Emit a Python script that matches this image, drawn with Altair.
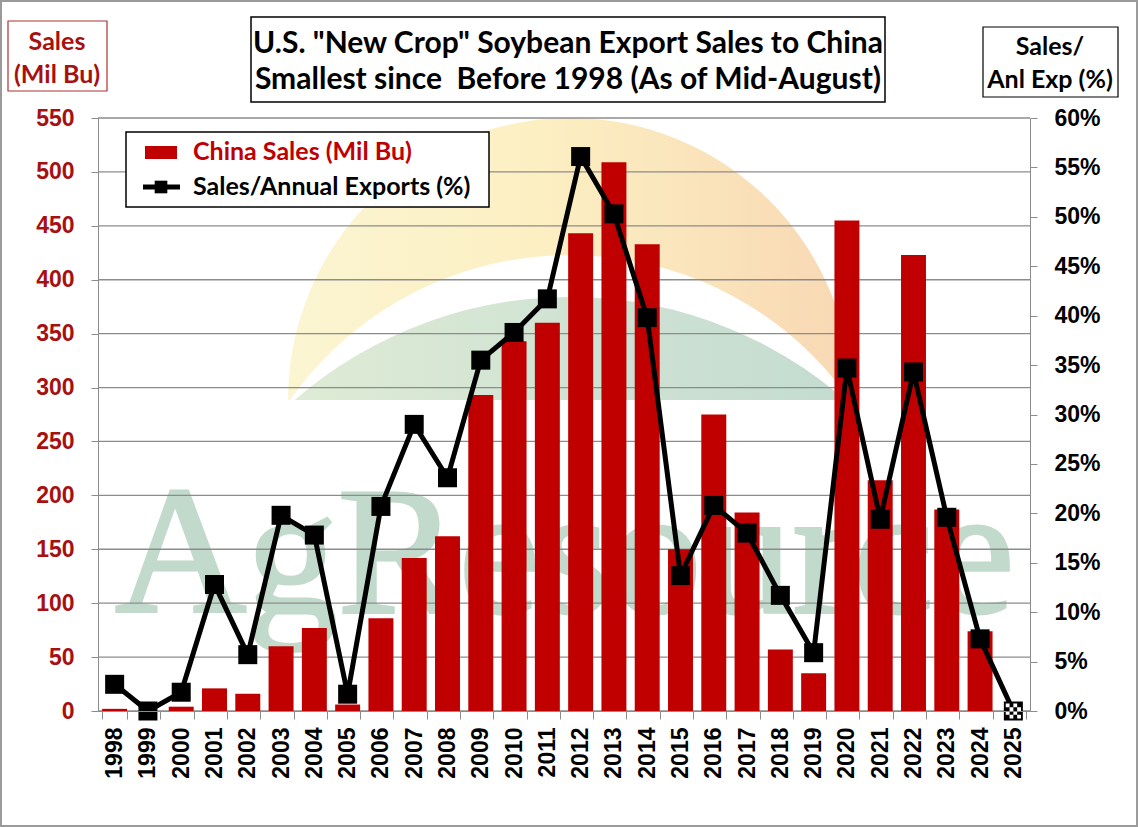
import altair as alt
import pandas as pd

# ---- data -------------------------------------------------------------
years = ["1998", "1999", "2000", "2001", "2002", "2003", "2004", "2005",
         "2006", "2007", "2008", "2009", "2010", "2011", "2012", "2013",
         "2014", "2015", "2016", "2017", "2018", "2019", "2020", "2021",
         "2022", "2023", "2024", "2025"]

# New-crop sales to China as of mid-August (million bushels)
china_sales = [2, 0, 4, 21, 16, 60, 77, 6, 86, 142, 162, 293, 343, 360,
               443, 509, 433, 150, 275, 184, 57, 35, 455, 214, 423, 187,
               74, 0]

# Those sales as a share of the year's total exports (percent)
sales_share_pct = [2.7, 0.0, 1.9, 12.8, 5.7, 19.8, 17.8, 1.7, 20.7, 29.0,
                   23.6, 35.5, 38.3, 41.7, 56.1, 50.3, 39.8, 13.7, 20.8,
                   18.0, 11.7, 5.9, 34.7, 19.4, 34.3, 19.6, 7.3, 0.0]

left_ticks = [0, 50, 100, 150, 200, 250, 300, 350, 400, 450, 500, 550]
right_ticks = [0.0, 0.05, 0.10, 0.15, 0.20, 0.25, 0.30, 0.35, 0.40, 0.45,
               0.50, 0.55, 0.60]

df = pd.DataFrame({
    "year": years,
    "sales": china_sales,
    "share": [v / 100 for v in sales_share_pct],
})

# ---- layout / style ---------------------------------------------------
W, H = 932, 593
PAD = {"left": 98, "top": 118, "right": 109, "bottom": 116}
BAR_RED = "#c00000"
AXIS_RED = "#a81010"
GRAY = "#8c8c8c"
CAL = "Lato"
NUM = "Liberation Sans"

one = alt.Data(values=[{"k": 0}])


def box(x, x2, y, y2, stroke, sw=1.5, fill="white"):
    return alt.Chart(one).mark_rect(fill=fill, stroke=stroke, strokeWidth=sw).encode(
        x=alt.value(x), x2=alt.value(x2), y=alt.value(y), y2=alt.value(y2))


def label(txt, x, y, size, color="black", align="center", font=CAL):
    return alt.Chart(one).mark_text(
        text=txt, font=font, fontSize=size, fontWeight="bold", color=color,
        align=align, baseline="middle").encode(x=alt.value(x), y=alt.value(y))


# outer frame of the figure
frame = alt.Chart(one).mark_rect(fill=None, stroke="#9a9a9a", strokeWidth=2).encode(
    x=alt.value(-97), x2=alt.value(1039), y=alt.value(-117), y2=alt.value(708))

# ---- faint company logo behind the plot ---------------------------------
cx, cy = 472, 282
sun = alt.Chart(one).mark_arc(
    radius=282, theta=4.712, theta2=7.854, clip=True,
    fill=alt.LinearGradient(
        gradient="linear", x1=0, x2=1, y1=0, y2=0,
        stops=[alt.GradientStop(color="#fbf5d2", offset=0),
               alt.GradientStop(color="#fcefc2", offset=0.45),
               alt.GradientStop(color="#f8d8b4", offset=1)]),
).encode(x=alt.value(cx), y=alt.value(cy))

gap = alt.Chart(one).mark_arc(radius=343, theta=0, theta2=6.2832, fill="white",
                              clip=True).encode(x=alt.value(cx), y=alt.value(cy + 198))

field = alt.Chart(one).mark_arc(
    radius=419, theta=0, theta2=6.2832, clip=True,
    fill=alt.LinearGradient(
        gradient="linear", x1=0, x2=1, y1=0, y2=0,
        stops=[alt.GradientStop(color="#e6efd6", offset=0),
               alt.GradientStop(color="#d0e3d3", offset=0.5),
               alt.GradientStop(color="#bdd8cf", offset=1)]),
).encode(x=alt.value(cx), y=alt.value(cy + 316))

horizon = alt.Chart(one).mark_rect(fill="white", clip=True).encode(
    x=alt.value(20), x2=alt.value(920), y=alt.value(cy), y2=alt.value(H))

wordmark = alt.Chart(one).mark_text(
    text="AgResource", font="Liberation Serif", fontSize=182, color="#c2dacc",
    stroke="#c2dacc", strokeWidth=3,
    align="left", baseline="alphabetic").encode(x=alt.value(17), y=alt.value(494))

# ---- axes -------------------------------------------------------------
x_enc = alt.X(
    "year:N", sort=years,
    scale=alt.Scale(paddingInner=0.25, paddingOuter=0.125),
    axis=alt.Axis(title=None, labelAngle=270, labelFont=NUM, labelFontWeight="bold",
                  labelFontSize=23, labelColor="black", tickBand="extent",
                  tickSize=8, tickColor=GRAY, domainColor=GRAY, labelPadding=8,
                  zindex=1),
)

left_axis = alt.Axis(orient="left", values=left_ticks, title=None, grid=False,
                     labelFont=NUM, labelFontWeight="bold", labelFontSize=23,
                     labelColor=AXIS_RED, tickSize=7, tickColor=GRAY,
                     domainColor=GRAY, labelPadding=17, zindex=1)
left_scale = alt.Scale(domain=[0, 550], nice=False)

right_axis = alt.Axis(orient="right", values=right_ticks, format=".0%", title=None,
                      grid=False, labelFont=NUM, labelFontWeight="bold",
                      labelFontSize=23, labelColor="black", tickSize=7,
                      tickColor=GRAY, domainColor=GRAY, labelPadding=17, zindex=1)
right_scale = alt.Scale(domain=[0, 0.6], nice=False)

# horizontal grid at the left-axis ticks, drawn over the logo, under the bars
grid = alt.Chart(pd.DataFrame({"sales": left_ticks})).mark_rule(
    color=GRAY, strokeWidth=1.3).encode(
    y=alt.Y("sales:Q", scale=left_scale, axis=left_axis))

bars = alt.Chart(df).mark_bar(color=BAR_RED).encode(
    x=x_enc, y=alt.Y("sales:Q", scale=left_scale, axis=left_axis))

left_group = alt.layer(grid, bars)

y_right = alt.Y("share:Q", scale=right_scale, axis=right_axis)
line = alt.Chart(df).mark_line(color="black", strokeWidth=5).encode(
    x=alt.X("year:N", sort=years), y=y_right)
squares = alt.Chart(df).mark_point(shape="square", filled=True, size=361,
                                   color="black", opacity=1).encode(
    x=alt.X("year:N", sort=years), y=y_right)

# checkerboard marker for the latest (incomplete) year
cells = []
step = 0.4
for i in range(4):
    for j in range(4):
        if (i + j) % 2 == 0:
            x0 = -0.8 + i * step
            y0 = -0.8 + j * step
            cells.append(f"M{x0:.2f},{y0:.2f}h{step}v{step}h-{step}Z")
checker_path = "".join(cells)
checker = alt.Chart(df).transform_filter(alt.datum.year == "2025").mark_point(
    shape=checker_path, filled=True, size=361, color="white", opacity=1).encode(
    x=alt.X("year:N", sort=years), y=y_right)

right_group = alt.layer(line, squares, checker)

# ---- legend -----------------------------------------------------------
legend_box = box(28, 391, 14, 89, "black", 1.5)
legend_swatch = alt.Chart(one).mark_rect(fill=BAR_RED).encode(
    x=alt.value(47), x2=alt.value(79), y=alt.value(28), y2=alt.value(41))
legend_line = alt.Chart(one).mark_rule(color="black", strokeWidth=5).encode(
    x=alt.value(45), x2=alt.value(82), y=alt.value(69))
legend_sq = alt.Chart(one).mark_point(shape="square", filled=True, size=160,
                                      color="black", opacity=1).encode(
    x=alt.value(63), y=alt.value(69))
legend_t1 = label("China Sales (Mil Bu)", 95, 34, 25, BAR_RED, "left")
legend_t2 = label("Sales/Annual Exports (%)", 95, 69, 25, "black", "left")

# ---- title and axis captions -------------------------------------------
title_box = box(153, 787, -101, -16, "black", 1.5)
title1 = label('U.S. "New Crop" Soybean Export Sales to China', 470, -74, 30)
title2 = label("Smallest since\u00a0 Before 1998 (As of Mid-August)", 470, -38, 30)

lcap_box = box(-90, 9, -97, -27, "#b03030", 1.2)
lcap1 = label("Sales", -41, -76, 25, AXIS_RED)
lcap2 = label("(Mil Bu)", -41, -43, 25, AXIS_RED)

rcap_box = box(885, 1020, -91, -21, "black", 1.2)
rcap1 = label("Sales/", 952, -71, 25)
rcap2 = label("Anl Exp (%)", 952, -38, 25)

chart = alt.layer(
    sun, gap, field, horizon, wordmark,
    left_group, right_group,
    legend_box, legend_swatch, legend_line, legend_sq, legend_t1, legend_t2,
    title_box, title1, title2,
    lcap_box, lcap1, lcap2,
    rcap_box, rcap1, rcap2,
    frame,
).resolve_scale(y="independent").properties(
    width=W, height=H, padding=PAD,
    autosize=alt.AutoSizeParams(type="none"),
    background="white",
).configure_view(stroke=None)

chart.save("out.html", embed_options={"renderer": "svg", "actions": False})
